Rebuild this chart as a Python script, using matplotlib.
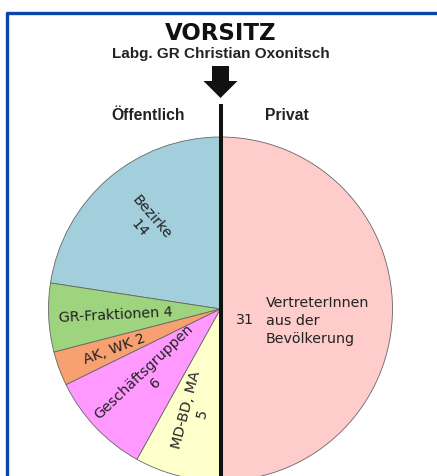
import matplotlib
matplotlib.use("Agg")
import matplotlib.pyplot as plt
import numpy as np
from matplotlib.patches import Polygon
from matplotlib.lines import Line2D

# Data
categories = ["Bezirke", "GR-Fraktionen", "AK, WK", "Geschäftsgruppen", "MD-BD, MA", "Private"]
values = [14, 4, 2, 6, 5, 31]
colors = ["#a3cfdc", "#9fd47f", "#f7a070", "#ff99ff", "#ffffcc", "#ffcccc"]
label_texts = ["Bezirke\n14", "GR-Fraktionen 4", "AK, WK 2", "Geschäftsgruppen\n6", "MD-BD, MA\n5"]
label_radius = [0.67, 0.61, 0.66, 0.57, 0.61]

W, H = 437, 477
fig = plt.figure(figsize=(W / 100, H / 100), dpi=100)
ax = fig.add_axes([0, 0, 1, 1])

def Y(p):
    return H - p

cx, cy, r = 220.5, Y(310), 172
wedges, _ = ax.pie(values, colors=colors, startangle=90, counterclock=True,
                   center=(cx, cy), radius=r, frame=True,
                   wedgeprops=dict(edgecolor="#666666", linewidth=0.6))
ax.set_xlim(0, W)
ax.set_ylim(0, H)
ax.set_aspect("equal")
ax.axis("off")

font = "DejaVu Sans"
fs = 10.3
for w, txt, rf in zip(wedges[:5], label_texts, label_radius):
    mid = 0.5 * (w.theta1 + w.theta2)
    a = np.deg2rad(mid)
    x = cx + rf * r * np.cos(a)
    y = cy + rf * r * np.sin(a)
    ax.text(x, y, txt, rotation=mid - 180, rotation_mode="anchor",
            ha="center", va="center", fontsize=fs, color="#222222",
            family=font, linespacing=1.2)

# Private label
ax.text(245, Y(320), str(values[5]), ha="center", va="center", fontsize=fs,
        color="#222222", family=font)
ax.text(266, Y(321), "VertreterInnen\naus der\nBevölkerung", ha="left", va="center",
        fontsize=fs, color="#222222", family=font, linespacing=1.38)

# Vertical divider
ax.add_line(Line2D([cx, cx], [Y(105), 0], color="#111111", linewidth=2.9,
                   solid_capstyle="butt"))

# Arrow
arrow = Polygon([(212, Y(67)), (229, Y(67)), (229, Y(82)), (237.5, Y(82)),
                 (220.5, Y(99)), (203.5, Y(82)), (212, Y(82))],
                closed=True, facecolor="#111111", edgecolor="none")
ax.add_patch(arrow)

# Titles
ax.text(221, Y(33), "VORSITZ", ha="center", va="center", fontsize=16.5,
        fontweight="heavy", color="#111111", family="DejaVu Sans")
ax.text(221, Y(54), "Labg. GR Christian Oxonitsch", ha="center", va="center",
        fontsize=11, fontweight="bold", color="#222222", family="Liberation Sans")
ax.text(148, Y(115), "Öffentlich", ha="center", va="center", fontsize=11.3,
        fontweight="bold", color="#222222", family="Liberation Sans")
ax.text(287, Y(115), "Privat", ha="center", va="center", fontsize=11.3,
        fontweight="bold", color="#222222", family="Liberation Sans")

# Frame (top and left only visible)
blue = "#0b45a8"
ax.add_line(Line2D([6, W], [Y(14), Y(14)], color=blue, linewidth=2.4, solid_capstyle="butt"))
ax.add_line(Line2D([7, 7], [Y(13), 0], color=blue, linewidth=2.4, solid_capstyle="butt"))

fig.savefig("out.png", dpi=100)
